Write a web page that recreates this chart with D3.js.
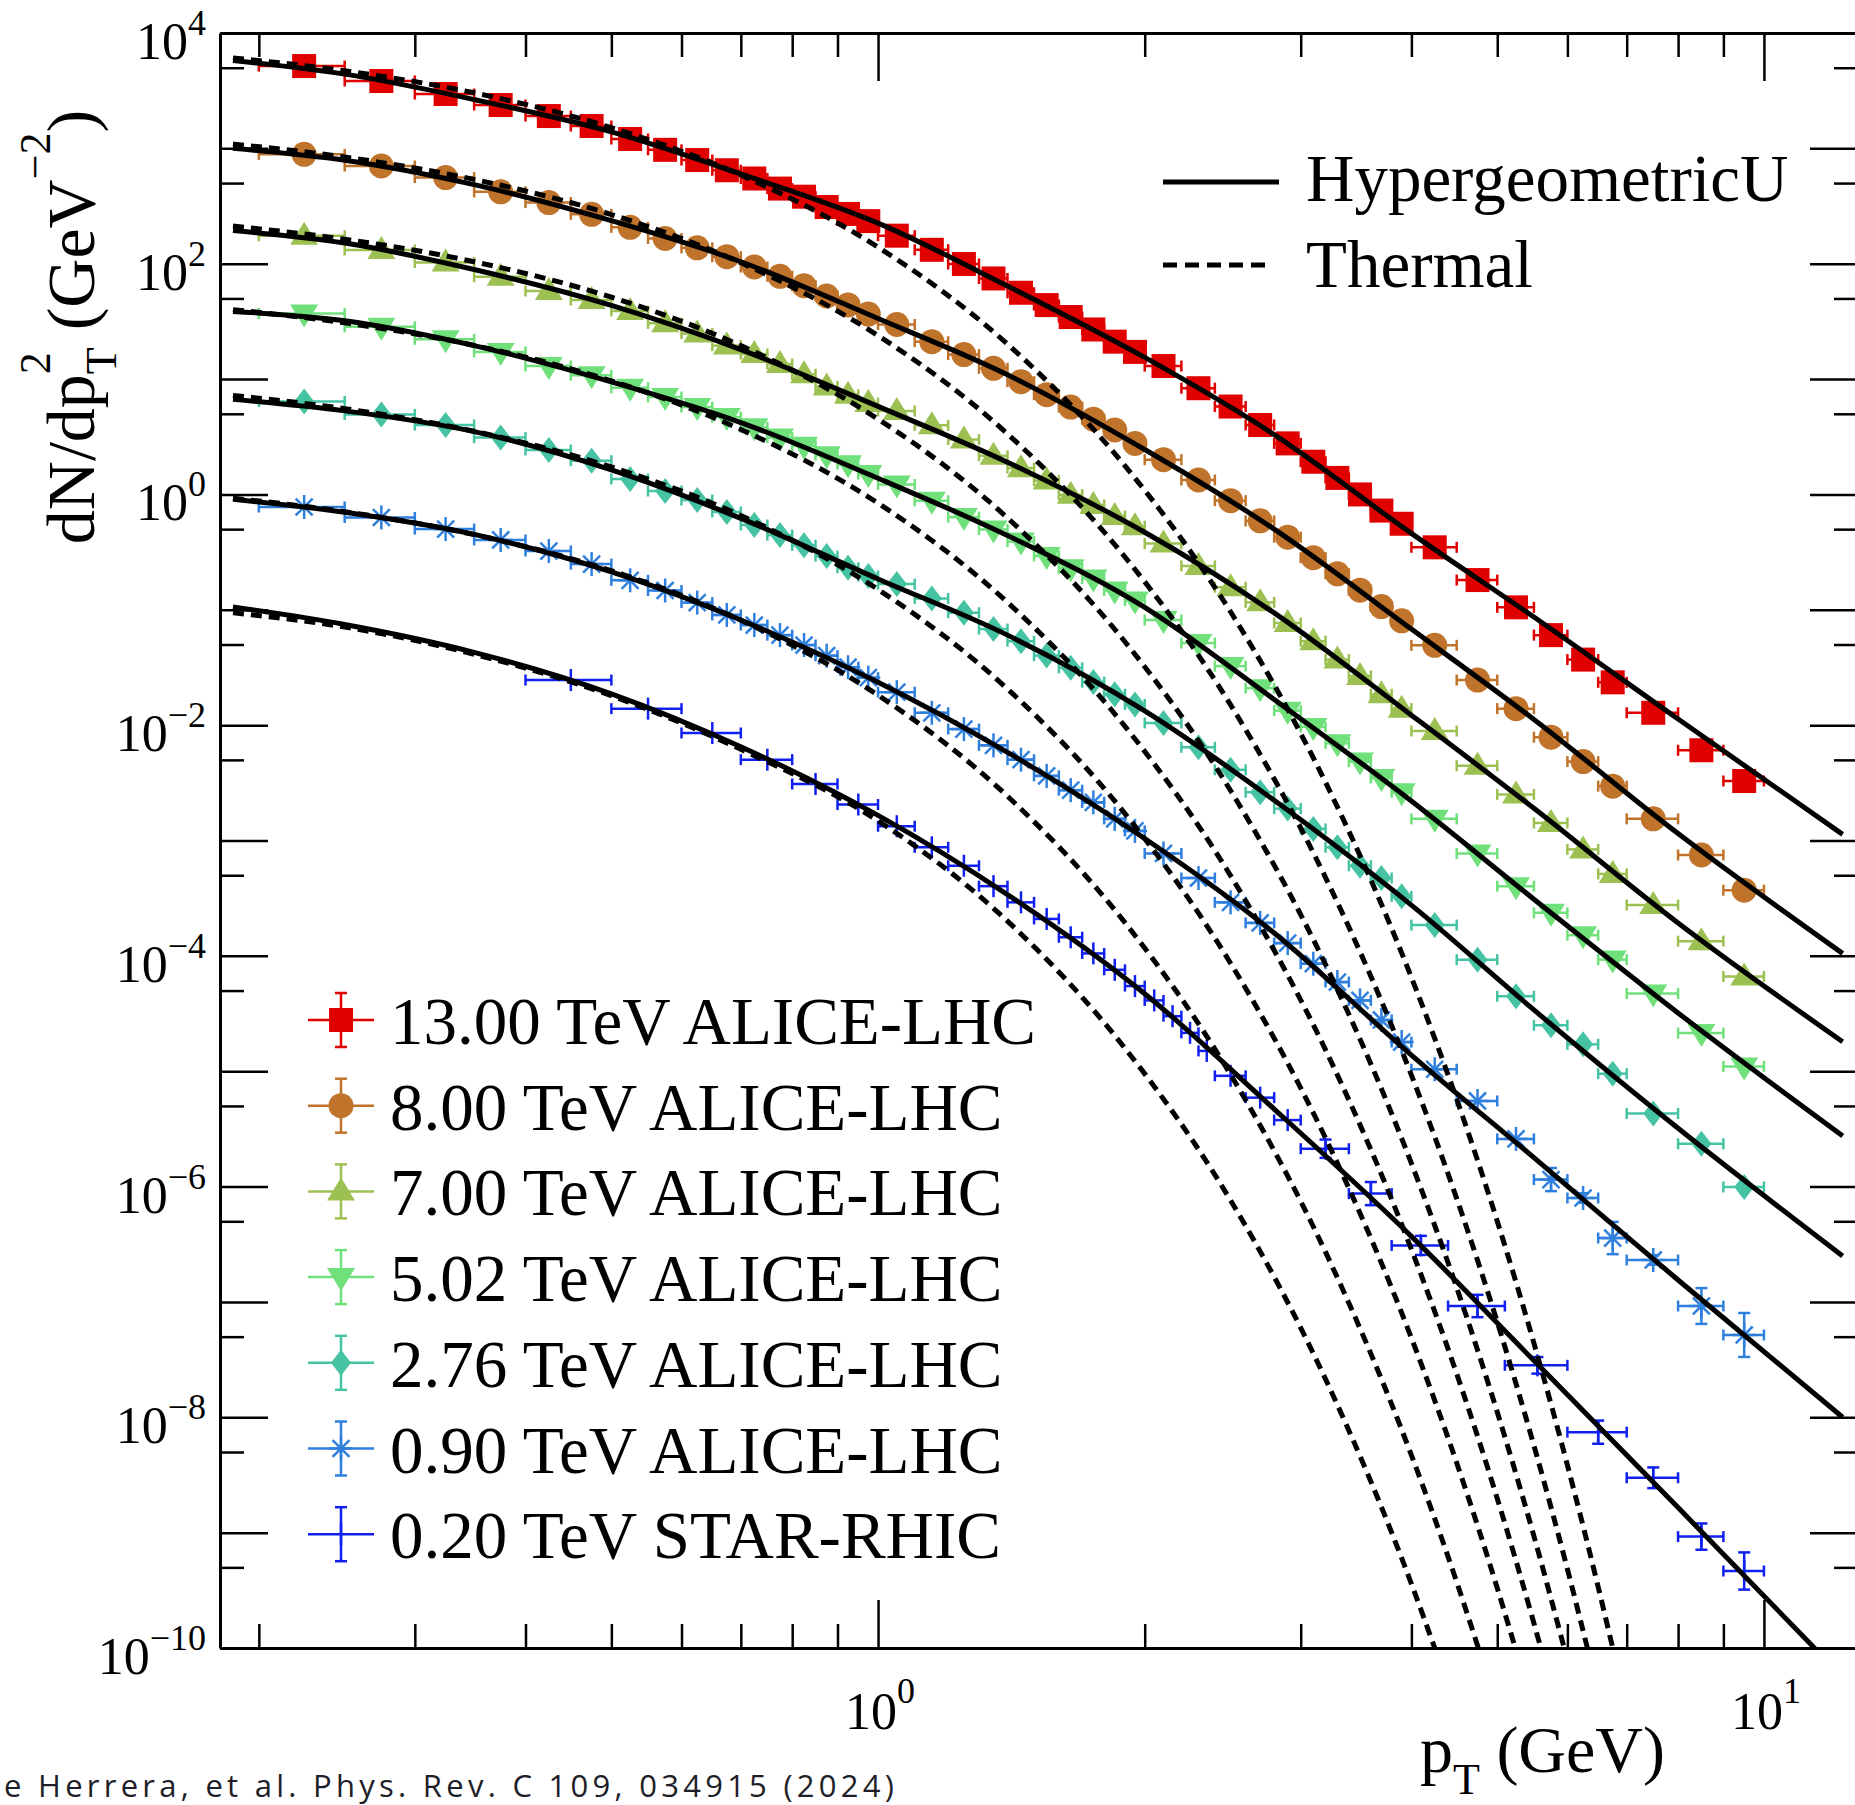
<!DOCTYPE html>
<html>
<head>
<meta charset="utf-8">
<title>pT spectra</title>
<script src="https://cdn.jsdelivr.net/npm/d3@7"></script>
<style>
    html, body { margin: 0; padding: 0; background: #fff; overflow: hidden; }
    svg { display: block; }
</style>
</head>
<body>
<script>
// pT bin edges (GeV) of the ALICE sets
var aliceEdges = [0.20, 0.25, 0.30, 0.35, 0.40, 0.45, 0.50, 0.55, 0.60, 0.65, 0.70, 0.75, 0.80, 0.85, 0.90, 0.95, 1.00,
    1.1, 1.2, 1.3, 1.4, 1.5, 1.6, 1.7, 1.8, 1.9, 2.0,
    2.2, 2.4, 2.6, 2.8, 3.0, 3.2, 3.4, 3.6, 3.8, 4.0,
    4.5, 5.0, 5.5, 6.0, 6.5, 7.0, 8.0, 9.0, 10.0];
// pT bin edges of the STAR set
var starEdges = [0.4, 0.5, 0.6, 0.7, 0.8, 0.9, 1.0, 1.1, 1.2, 1.3, 1.4, 1.5, 1.6, 1.7, 1.8, 1.9, 2.0, 2.1, 2.2, 2.3, 2.4,
    2.6, 2.8, 3.0, 3.4, 3.8, 4.4, 5.1, 6.0, 7.0, 8.0, 9.0, 10.0];

// measured dN/dpT^2 (GeV^-2)
var yield13 = [5170, 3835, 2958, 2376, 1906, 1562, 1205, 971, 792, 646, 548, 448, 381, 310, 270, 234,
    175, 132, 99.4, 74.5, 56.0, 43.8, 34.5, 26.9, 21.1, 17.2,
    12.97, 8.33, 5.78, 4.00, 2.77, 1.92, 1.39, 1.00, 0.724, 0.557,
    0.348, 0.181, 0.105, 0.0603, 0.0370, 0.0235, 0.0128, 6.06e-3, 3.28e-3];
var yield8 = [887, 703, 558, 420, 339, 268, 206.7, 165.5, 137.3, 115.0, 93.6, 77.8, 64.5, 52.5, 43.9, 36.6,
    29.7, 21.1, 16.3, 12.4, 9.50, 7.32, 5.72, 4.49, 3.62, 2.77,
    2.00, 1.334, 0.883, 0.590, 0.426, 0.283, 0.205, 0.148, 0.1067, 0.0802,
    0.0492, 0.0246, 0.0139, 7.87e-3, 4.83e-3, 2.96e-3, 1.54e-3, 7.49e-4, 3.71e-4];
var yield7 = [174.8, 131.4, 102.4, 76.9, 58.0, 48.4, 38.9, 30.4, 24.8, 19.5, 16.5, 13.5, 11.0, 8.62, 7.31, 6.20,
    5.28, 3.97, 2.99, 2.16, 1.69, 1.32, 0.994, 0.811, 0.650, 0.530,
    0.375, 0.240, 0.157, 0.116, 0.0769, 0.0534, 0.0370, 0.0267, 0.0185, 0.0139,
    8.89e-3, 4.45e-3, 2.51e-3, 1.42e-3, 8.37e-4, 5.13e-4, 2.76e-4, 1.34e-4, 6.62e-5];
var yield5 = [37.0, 28.4, 22.1, 17.2, 13.0, 10.8, 8.40, 7.00, 5.72, 4.68, 3.82, 3.11, 2.64, 2.19, 1.83, 1.50,
    1.22, 0.880, 0.636, 0.497, 0.390, 0.293, 0.229, 0.187, 0.147, 0.1205,
    0.0815, 0.0515, 0.0325, 0.0209, 0.01336, 9.66e-3, 6.96e-3, 4.83e-3, 3.48e-3, 2.62e-3,
    1.54e-3, 7.71e-4, 4.02e-4, 2.36e-4, 1.51e-4, 9.28e-5, 4.71e-5, 2.14e-5, 1.10e-5];
var yield276 = [6.40, 4.94, 4.00, 3.11, 2.43, 1.96, 1.36, 1.07, 0.894, 0.704, 0.544, 0.444, 0.362, 0.292, 0.231, 0.196,
    0.167, 0.1255, 0.0943, 0.0681, 0.0534, 0.0401, 0.0314, 0.0236, 0.0185, 0.0151,
    0.01045, 6.43e-3, 4.10e-3, 2.62e-3, 1.89e-3, 1.26e-3, 8.73e-4, 6.04e-4, 4.73e-4, 3.28e-4,
    1.85e-4, 9.27e-5, 4.46e-5, 2.50e-5, 1.71e-5, 9.51e-6, 4.30e-6, 2.35e-6, 9.91e-7];
var yield09 = [0.778, 0.631, 0.501, 0.403, 0.323, 0.249, 0.180, 0.147, 0.1154, 0.0902, 0.0738, 0.0603, 0.0495, 0.0400, 0.0318, 0.0258,
    0.0193, 0.0128, 9.25e-3, 6.68e-3, 5.02e-3, 3.63e-3, 2.73e-3, 2.14e-3, 1.54e-3, 1.21e-3,
    7.72e-4, 4.73e-4, 2.91e-4, 1.93e-4, 1.29e-4, 8.55e-5, 5.93e-5, 4.11e-5, 2.78e-5, 1.79e-5,
    1.04e-5, 5.52e-6, 2.59e-6, 1.15e-6, 7.96e-7, 3.58e-7, 2.31e-7, 9.22e-8, 5.17e-8];
var yieldStar = [0.0246, 0.0139, 8.55e-3, 5.02e-3, 3.09e-3, 2.05e-3, 1.33e-3, 8.73e-4, 6.04e-4, 4.02e-4,
    2.91e-4, 2.09e-4, 1.45e-4, 1.05e-4, 7.57e-5, 5.47e-5, 4.11e-5, 3.00e-5, 2.15e-5, 1.50e-5,
    9.12e-6, 5.90e-6, 3.77e-6, 2.13e-6, 8.69e-7, 3.09e-7, 9.22e-8, 2.82e-8, 7.43e-9, 2.99e-9, 9.24e-10, 4.65e-10];

// relative vertical errors, only where they stick out of the marker
var relErr09 = [0, 0, 0, 0, 0, 0, 0, 0, 0, 0, 0, 0, 0, 0, 0, 0,
    0, 0, 0, 0, 0, 0, 0, 0, 0, 0,
    0, 0, 0, 0, 0, 0, 0, 0, 0, 0,
    0, 0, 0, 0.26, 0.1, 0.38, 0.1, 0.43, 0.55];
var relErrStar = [0, 0, 0, 0, 0, 0, 0, 0, 0, 0, 0, 0, 0, 0, 0, 0, 0, 0, 0, 0,
    0, 0, 0, 0.2, 0.26, 0.21, 0.25, 0.18, 0.26, 0.23, 0.3, 0.45];

// HypergeometricU fit read at these pT
var fitPt = [0.187, 0.25, 0.35, 0.5, 0.7, 1.0, 1.4, 2.0, 2.8, 4.0, 5.5, 8.0, 12.27];
var fit13 = [5780, 4400, 2650, 1390, 600, 225, 64, 15.4, 3.3, 0.46, 0.0865, 0.0113, 1.13e-3];
var fit8 = [1000, 790, 485, 236, 104, 33.5, 10.9, 2.45, 0.50, 0.068, 0.0112, 1.15e-3, 1.05e-4];
var fit7 = [194, 151, 89, 43.5, 18.0, 5.8, 1.9, 0.47, 0.094, 0.0122, 1.9e-3, 1.93e-4, 1.8e-5];
var fit5 = [38.6, 32, 19.5, 9.45, 4.2, 1.38, 0.44, 0.105, 0.0167, 2.2e-3, 3.1e-4, 3.2e-5, 2.75e-6];
var fit276 = [6.67, 5.3, 3.5, 1.63, 0.62, 0.185, 0.0603, 0.0133, 2.23e-3, 2.75e-4, 3.4e-5, 3.2e-6, 2.5e-7];
var fit09 = [0.907, 0.70, 0.45, 0.213, 0.0815, 0.0235, 5.8e-3, 1.04e-3, 1.58e-4, 1.38e-5, 1.78e-6, 1.55e-7, 1.0e-8];
var fit02 = [0.1057, 0.0746, 0.0428, 0.0187, 6.5e-3, 1.65e-3, 3.4e-4, 4.7e-5, 4.7e-6, 3.7e-7, 3.1e-8, 1.65e-9, 5.6e-11];

// thermal curves, [pT, dN/dpT^2]
var thermal13 = [[0.187, 6080], [0.25, 4700], [0.35, 3030], [0.5, 1510], [0.7, 587], [1.0, 139], [1.4, 20.1], [1.9, 1.77],
    [2.5, 0.0961], [3.2, 3.19e-3], [4.0, 6.51e-5], [4.5, 5.71e-6], [5.0, 5.01e-7], [5.5, 4.39e-8], [6.0, 3.85e-9], [6.5, 3.38e-10], [6.75, 1e-10]];
var thermal8 = [[0.187, 1090], [0.25, 841], [0.35, 538], [0.5, 267], [0.7, 102], [1.0, 23.8], [1.4, 3.35], [1.9, 0.287],
    [2.5, 0.0150], [3.2, 4.77e-4], [4.0, 9.26e-6], [4.5, 7.87e-7], [5.0, 6.70e-8], [5.5, 5.69e-9], [6.0, 4.84e-10], [6.32, 1e-10]];
var thermal7 = [[0.187, 212], [0.25, 163], [0.35, 104], [0.5, 51.3], [0.7, 19.5], [1.0, 4.50], [1.4, 0.626], [1.9, 0.0528],
    [2.5, 2.71e-3], [3.2, 8.41e-5], [4.0, 1.59e-6], [4.5, 1.33e-7], [5.0, 1.11e-8], [5.5, 9.33e-10], [5.95, 1e-10]];
var thermal5 = [[0.187, 40.0], [0.25, 30.7], [0.35, 19.6], [0.5, 9.65], [0.7, 3.66], [1.0, 0.840], [1.4, 0.116], [1.9, 9.76e-3],
    [2.5, 4.96e-4], [3.2, 1.53e-5], [4.0, 2.86e-7], [4.5, 2.38e-8], [5.0, 1.98e-9], [5.5, 1.64e-10], [5.6, 1e-10]];
var thermal276 = [[0.187, 7.21], [0.25, 5.54], [0.35, 3.53], [0.5, 1.73], [0.7, 0.656], [1.0, 0.150], [1.4, 0.0206], [1.9, 1.71e-3],
    [2.5, 8.63e-5], [3.2, 2.63e-6], [4.0, 4.87e-8], [4.5, 4.02e-9], [5.0, 3.31e-10], [5.24, 1e-10]];
var thermal09 = [[0.187, 0.927], [0.25, 0.709], [0.35, 0.448], [0.5, 0.218], [0.7, 0.0813], [1.0, 0.0182], [1.4, 2.42e-3], [1.9, 1.94e-4],
    [2.5, 9.34e-6], [3.2, 2.70e-7], [4.0, 4.70e-9], [4.5, 3.73e-10], [4.76, 1e-10]];
var thermal02 = [[0.187, 0.0942], [0.25, 0.0708], [0.35, 0.0412], [0.5, 0.0180], [0.7, 6.17e-3], [1.0, 1.48e-3], [1.4, 2.0e-4], [1.9, 1.58e-5],
    [2.5, 7.6e-7], [3.2, 2.14e-8], [4.0, 3.6e-10], [4.25, 1e-10]];

var setNames = ["13.00 TeV ALICE-LHC", "8.00 TeV ALICE-LHC", "7.00 TeV ALICE-LHC", "5.02 TeV ALICE-LHC",
    "2.76 TeV ALICE-LHC", "0.90 TeV ALICE-LHC", "0.20 TeV STAR-RHIC"];
var curveNames = ["HypergeometricU", "Thermal"];
var sourceNote = "e Herrera, et al. Phys. Rev. C 109, 034915 (2024)";

// axis ticks
var xMajor = [1, 10];
var xMinor = [0.2, 0.3, 0.4, 0.5, 0.6, 0.7, 0.8, 0.9, 2, 3, 4, 5, 6, 7, 8, 9];
var xLabelExp = [0, 1];
var yMajor = [1e-10, 1e-9, 1e-8, 1e-7, 1e-6, 1e-5, 1e-4, 1e-3, 1e-2, 1e-1, 1, 1e1, 1e2, 1e3, 1e4];
var yMinor = [5e-10, 5e-9, 5e-8, 5e-7, 5e-6, 5e-5, 5e-4, 5e-3, 5e-2, 5e-1, 5, 5e1, 5e2, 5e3];
var yLabelExp = [4, 2, 0, -2, -4, -6, -8, -10];

var SpectraChart = (function () {

    function SpectraChart(elem, width, height) {
        this.width = width;
        this.height = height;
        this.left = 220;
        this.right = 1858;
        this.top = 33;
        this.bottom = 1648;
        this.serif = "'Liberation Serif', 'Times New Roman', Times, serif";
        this.init();
        this.drawAxes();
        this.drawData();
        this.drawCurves();
        this.drawLegends();
        elem.append(this.svg.node());
    }

    SpectraChart.prototype.init = function () {
        var self = this;
        self.svg = d3.create("svg")
            .attr("width", self.width)
            .attr("height", self.height)
            .attr("viewBox", [0, 0, self.width, self.height]);
        self.svg.append("rect").attr("width", self.width).attr("height", self.height).attr("fill", "#fff");

        self.x = d3.scaleLog().domain([0.1808, 12.77]).range([self.left, self.right]);
        self.y = d3.scaleLog().domain([1e-10, 1e4]).range([self.bottom, self.top]);

        self.svg.append("clipPath").attr("id", "plotclip").append("rect")
            .attr("x", self.left).attr("y", self.top)
            .attr("width", self.right - self.left).attr("height", self.bottom - self.top);

        var values = [yield13, yield8, yield7, yield5, yield276, yield09, yieldStar];
        var fits = [fit13, fit8, fit7, fit5, fit276, fit09, fit02];
        var thermals = [thermal13, thermal8, thermal7, thermal5, thermal276, thermal09, thermal02];
        var colors = ["#e10000", "#c0732a", "#9cc152", "#6fe07a", "#45c3a3", "#2f7fde", "#1020f0"];
        var markers = ["square", "circle", "up", "down", "diamond", "asterisk", "plus"];
        self.series = setNames.map(function (name, i) {
            return {
                name: name,
                values: values[i],
                edges: i === 6 ? starEdges : aliceEdges,
                relErr: i === 5 ? relErr09 : (i === 6 ? relErrStar : null),
                fit: fits[i],
                thermal: thermals[i],
                color: colors[i],
                marker: markers[i]
            };
        });
    };

    SpectraChart.prototype.drawAxes = function () {
        var self = this;

        function tidy(g, keepDomain) {
            g.select(".domain").attr("stroke", "#000").attr("stroke-width", 3)
                .attr("display", keepDomain ? null : "none");
            g.selectAll(".tick line").attr("stroke", "#000").attr("stroke-width", 2.5);
            g.selectAll(".tick text").remove();
        }

        var axes = [
            [d3.axisBottom(self.x), "translate(0," + self.bottom + ")", xMajor, xMinor],
            [d3.axisTop(self.x), "translate(0," + self.top + ")", xMajor, xMinor],
            [d3.axisLeft(self.y), "translate(" + self.left + ",0)", yMajor, yMinor],
            [d3.axisRight(self.y), "translate(" + self.right + ",0)", yMajor, yMinor]
        ];
        axes.forEach(function (a) {
            self.svg.append("g").attr("transform", a[1])
                .call(a[0].tickValues(a[3]).tickSizeInner(-24).tickSizeOuter(0).tickFormat(""))
                .call(function (g) { tidy(g, false); });
            self.svg.append("g").attr("transform", a[1])
                .call(a[0].tickValues(a[2]).tickSizeInner(-48).tickSizeOuter(0).tickFormat(""))
                .call(function (g) { tidy(g, true); });
        });

        var labels = self.svg.append("g").attr("font-family", self.serif).attr("fill", "#000");
        yLabelExp.forEach(function (e) {
            var t = labels.append("text")
                .attr("x", 206)
                .attr("y", self.y(Math.pow(10, e)) + 26)
                .attr("text-anchor", "end")
                .attr("font-size", 52)
                .text("10");
            t.append("tspan").attr("dy", -24).attr("font-size", 36)
                .text(e < 0 ? "\u2212" + (-e) : String(e));
        });
        xLabelExp.forEach(function (e) {
            var t = labels.append("text")
                .attr("x", self.x(Math.pow(10, e)) + 2)
                .attr("y", 1729)
                .attr("text-anchor", "middle")
                .attr("font-size", 52)
                .text("10");
            t.append("tspan").attr("dy", -26).attr("font-size", 36).text(String(e));
        });

        // axis titles
        var xt = labels.append("text").attr("x", 1420).attr("y", 1772).attr("font-size", 66).text("p");
        xt.append("tspan").attr("dy", 22).attr("font-size", 44).text("T");
        xt.append("tspan").attr("dy", -22).attr("font-size", 66).text(" (GeV)");

        var yt = labels.append("text")
            .attr("transform", "translate(94,327) rotate(-90)")
            .attr("text-anchor", "middle")
            .attr("font-size", 68)
            .text("dN/dp");
        yt.append("tspan").attr("dy", -44).attr("font-size", 44).text("2");
        yt.append("tspan").attr("dx", -22).attr("dy", 66).attr("font-size", 44).text("T");
        yt.append("tspan").attr("dy", -22).attr("font-size", 68).text(" (GeV");
        yt.append("tspan").attr("dy", -44).attr("font-size", 44).text("\u22122");
        yt.append("tspan").attr("dy", 44).attr("font-size", 68).text(")");
    };

    SpectraChart.prototype.errX = function (g, x0, x1, cy) {
        g.append("line").attr("x1", x0).attr("x2", x1).attr("y1", cy).attr("y2", cy);
        g.append("line").attr("x1", x0).attr("x2", x0).attr("y1", cy - 5.5).attr("y2", cy + 5.5);
        g.append("line").attr("x1", x1).attr("x2", x1).attr("y1", cy - 5.5).attr("y2", cy + 5.5);
    };

    SpectraChart.prototype.errY = function (g, cx, y0, y1) {
        g.append("line").attr("x1", cx).attr("x2", cx).attr("y1", y0).attr("y2", y1);
        g.append("line").attr("x1", cx - 6).attr("x2", cx + 6).attr("y1", y0).attr("y2", y0);
        g.append("line").attr("x1", cx - 6).attr("x2", cx + 6).attr("y1", y1).attr("y2", y1);
    };

    SpectraChart.prototype.marker = function (g, type, cx, cy) {
        var pts;
        switch (type) {
            case "square":
                g.append("rect").attr("x", cx - 12).attr("y", cy - 12).attr("width", 24).attr("height", 24).attr("stroke", "none");
                break;
            case "circle":
                g.append("circle").attr("cx", cx).attr("cy", cy).attr("r", 12.5).attr("stroke", "none");
                break;
            case "up":
                pts = [[cx, cy - 14], [cx + 14, cy + 9], [cx - 14, cy + 9]];
                g.append("polygon").attr("points", pts.join(" ")).attr("stroke", "none");
                break;
            case "down":
                pts = [[cx, cy + 14], [cx + 14, cy - 9], [cx - 14, cy - 9]];
                g.append("polygon").attr("points", pts.join(" ")).attr("stroke", "none");
                break;
            case "diamond":
                pts = [[cx, cy - 13], [cx + 10, cy], [cx, cy + 13], [cx - 10, cy]];
                g.append("polygon").attr("points", pts.join(" ")).attr("stroke", "none");
                break;
            case "asterisk":
                [0, 45, 90, 135].forEach(function (a) {
                    var r = 12, dx = r * Math.cos(a * Math.PI / 180), dy = r * Math.sin(a * Math.PI / 180);
                    g.append("line").attr("x1", cx - dx).attr("x2", cx + dx).attr("y1", cy - dy).attr("y2", cy + dy);
                });
                break;
            case "plus":
                g.append("line").attr("x1", cx).attr("x2", cx).attr("y1", cy - 11).attr("y2", cy + 11);
                break;
        }
    };

    SpectraChart.prototype.drawData = function () {
        var self = this;
        var g = self.svg.append("g").attr("clip-path", "url(#plotclip)");
        self.series.forEach(function (s) {
            var sg = g.append("g").attr("stroke", s.color).attr("fill", s.color).attr("stroke-width", 2.5);
            s.values.forEach(function (v, i) {
                var lo = s.edges[i], hi = s.edges[i + 1];
                var cx = self.x((lo + hi) / 2), cy = self.y(v);
                self.errX(sg, self.x(lo), self.x(hi), cy);
                var e = s.relErr ? s.relErr[i] : 0;
                if (e > 0) self.errY(sg, cx, self.y(v * (1 + e)), self.y(v / (1 + e)));
                self.marker(sg, s.marker, cx, cy);
            });
        });
    };

    SpectraChart.prototype.drawCurves = function () {
        var self = this;
        var line = d3.line()
            .x(function (d) { return self.x(d[0]); })
            .y(function (d) { return self.y(d[1]); })
            .curve(d3.curveMonotoneX);
        var g = self.svg.append("g").attr("clip-path", "url(#plotclip)").attr("fill", "none").attr("stroke", "#000");
        self.series.forEach(function (s) {
            g.append("path")
                .attr("d", line(fitPt.map(function (p, i) { return [p, s.fit[i]]; })))
                .attr("stroke-width", 5);
        });
        self.series.forEach(function (s) {
            g.append("path")
                .attr("d", line(s.thermal))
                .attr("stroke-width", 5)
                .attr("stroke-dasharray", "11,7");
        });
    };

    SpectraChart.prototype.drawLegends = function () {
        var self = this;
        var lg = self.svg.append("g").attr("font-family", self.serif).attr("font-size", 67).attr("fill", "#000");

        // curve legend, top right
        lg.append("line").attr("x1", 1163).attr("x2", 1279).attr("y1", 182).attr("y2", 182)
            .attr("stroke", "#000").attr("stroke-width", 5);
        lg.append("text").attr("x", 1306).attr("y", 201).text(curveNames[0]);
        lg.append("line").attr("x1", 1163).attr("x2", 1272).attr("y1", 265).attr("y2", 265)
            .attr("stroke", "#000").attr("stroke-width", 5).attr("stroke-dasharray", "14,8");
        lg.append("text").attr("x", 1306).attr("y", 287).text(curveNames[1]);

        // data legend, bottom left
        self.series.forEach(function (s, i) {
            var cy = 1020 + i * 85.7, cx = 341;
            var sg = lg.append("g").attr("stroke", s.color).attr("fill", s.color).attr("stroke-width", 2.5);
            sg.append("line").attr("x1", cx - 33).attr("x2", cx + 33).attr("y1", cy).attr("y2", cy);
            self.errY(sg, cx, cy - 27, cy + 27);
            self.marker(sg, s.marker, cx, cy);
            lg.append("text").attr("x", 390).attr("y", cy + 24).text(s.name);
        });

        // source line along the bottom edge
        self.svg.append("text")
            .attr("x", 4).attr("y", 1797)
            .attr("font-family", "'Open Sans', 'DejaVu Sans', sans-serif")
            .attr("font-size", 31)
            .attr("fill", "#1e1e28")
            .attr("textLength", 890)
            .attr("lengthAdjust", "spacing")
            .text(sourceNote);
    };

    return SpectraChart;
})();

new SpectraChart(document.body, 1855, 1805);
</script>
</body>
</html>
